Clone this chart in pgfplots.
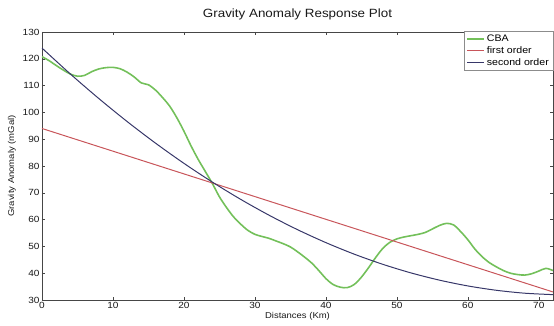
\documentclass[border=0pt]{standalone}
\usepackage{fontspec}
\setmainfont{Liberation Sans}[FakeStretch=1.12]
\usepackage{pgfplots}
\pgfplotsset{compat=1.18}
\definecolor{cbagreen}{RGB}{115,192,90}
\definecolor{forder}{RGB}{200,85,90}
\definecolor{sorder}{RGB}{55,55,105}
\definecolor{axgray}{RGB}{70,70,70}
\begin{document}
\begin{tikzpicture}
\useasboundingbox (-42bp,-26bp) rectangle (512bp,300bp);
\begin{axis}[
  at={(0,0)}, anchor=south west,
  scale only axis, width=511bp, height=268bp,
  xmin=0, xmax=72, ymin=30, ymax=130,
  xtick={0,10,...,70}, ytick={30,40,...,130},
  tick align=inside, major tick length=3bp,
  axis line style={axgray, line width=0.6pt},
  every tick/.style={axgray, line width=0.5pt},
  tick label style={font=\fontsize{9}{9}\selectfont, text=black!90},
  /pgf/number format/assume math mode=true,
  xticklabel style={yshift=1bp},
  yticklabel style={xshift=1bp},
  title={Gravity Anomaly Response Plot},
  title style={font=\fontsize{12}{12}\selectfont, text=black!90, yshift=3bp},
  xlabel={Distances (Km)},
  xlabel style={font=\fontsize{8.5}{9}\selectfont, text=black!90, yshift=3bp},
  ylabel={Gravity Anomaly (mGal)},
  ylabel style={font=\fontsize{8.5}{9}\selectfont, text=black!90, yshift=0bp},
  legend style={at={(1,1.005)}, anchor=north east, draw=black!45, fill=white,
    font=\fontsize{9.5}{10}\selectfont, inner sep=2pt, row sep=-0.5pt,
    cells={anchor=west}},
  legend image code/.code={\draw[#1] (0cm,0cm) -- (0.6cm,0cm);},
  clip=true,
]
\addplot[cbagreen, line width=1.6pt, smooth] coordinates {
(0,120.8) (1,119.3) (2,117.5) (3,115.8) (4,114.3) (5,113.5) (6,113.8) (7,115.2)
(8,116.2) (9,116.7) (10,116.8) (11,116.3) (12,115.0) (13,113.2) (14,111.0) (15,110.3)
(16,108.3) (17,105.5) (18,102.3) (19,98.0) (20,93.0) (21,87.5) (22,82.5) (23,78.0)
(24,73.5) (25,68.5) (26,64.5) (27,61.0) (28,58.3) (29,56.0) (30,54.5) (31,53.7)
(32,53.0) (33,52.0) (34,51.0) (35,49.8) (36,48.0) (37,46.0) (38,43.8) (39,41.0)
(40,38.0) (41,35.8) (42,34.8) (43,34.6) (44,35.8) (45,38.5) (46,42.0) (47,45.8)
(48,49.2) (49,51.5) (50,52.8) (51,53.5) (52,54.0) (53,54.5) (54,55.2) (55,56.5)
(56,57.8) (57,58.6) (58,58.0) (59,55.5) (60,52.5) (61,49.0) (62,46.2) (63,44.0)
(64,42.4) (65,41.0) (66,40.0) (67,39.5) (68,39.3) (69,39.8) (70,40.8) (71,41.8) (72,41.0)
};
\addlegendentry{CBA}
\addplot[forder, line width=1.0pt] coordinates {(0,94.0) (72,33.0)};
\addlegendentry{first order}
\addplot[sorder, line width=1.0pt, smooth] coordinates {
(0,124.00) (4,114.32) (8,105.19) (12,96.58) (16,88.52) (20,80.99) (24,74.00)
(28,67.55) (32,61.63) (36,56.25) (40,51.41) (44,47.10) (48,43.33) (52,40.10)
(56,37.41) (60,35.25) (64,33.63) (68,32.54) (72,32.00)
};
\addlegendentry{second order}
\end{axis}
\end{tikzpicture}
\end{document}
